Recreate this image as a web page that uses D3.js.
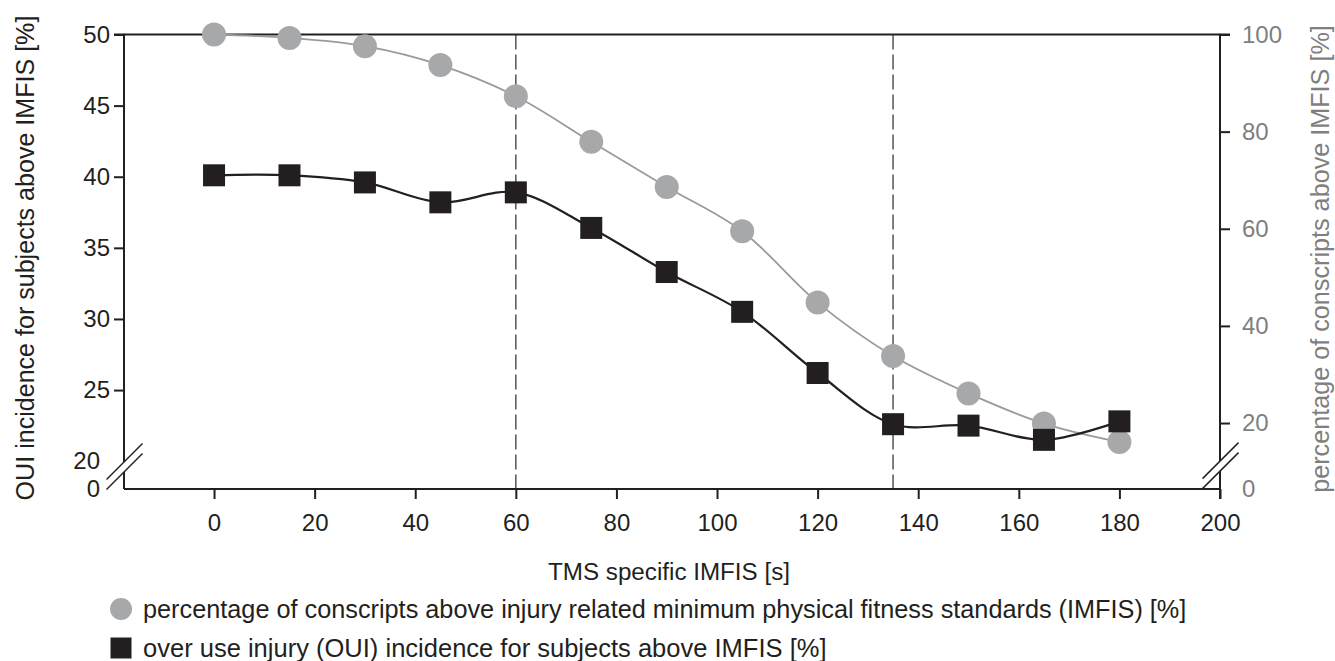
<!DOCTYPE html>
<html>
<head>
<meta charset="utf-8">
<script src="https://cdn.jsdelivr.net/npm/d3@7"></script>
<style>
  body { margin: 0; background: white; }
  svg { display: block; font-family: "Liberation Sans", Arial, sans-serif; }
</style>
</head>
<body>
<div id="chart"></div>
<script>
// x values (TMS specific IMFIS, s)
const imfisSec = [0, 15, 30, 45, 60, 75, 90, 105, 120, 135, 150, 165, 180]
// percentage of conscripts above IMFIS (right axis)
const pctAbove = [100, 99.3, 97.6, 93.7, 87.3, 77.9, 68.6, 59.5, 44.8, 33.8, 26.1, 19.9, 16.1]
// OUI incidence for subjects above IMFIS (left axis)
const ouiIncidence = [40.1, 40.1, 39.6, 38.2, 38.9, 36.4, 33.3, 30.5, 26.2, 22.6, 22.5, 21.5, 22.8]

const xTicks = d3.range(0, 201, 20)
const leftTicks = [0, 20, 25, 30, 35, 40, 45, 50]
const rightTicks = [0, 20, 40, 60, 80, 100]
const markerLines = [60, 135]

const legendItems = [
    { label: 'percentage of conscripts above injury related minimum physical fitness standards (IMFIS) [%]', shape: 'circle', len: 1044 },
    { label: 'over use injury (OUI) incidence for subjects above IMFIS [%]', shape: 'square', len: 684 }
]

const W = 1335, H = 661
const pLeft = 124, pRight = 1220, pTop = 34.5, pBottom = 489

const grayFill = '#a7a8aa'
const darkFill = '#231f20'
const grayText = '#7f7f7f'
const fontFam = '"Liberation Sans", Arial, sans-serif'

let svg = d3.select('#chart').append('svg')
    .attr('width', W).attr('height', H)

let x = d3.scaleLinear().domain([-17.9, 200]).range([pLeft, pRight])
// broken axes: compressed segment near zero
let yL = d3.scaleLinear().domain([0, 19, 50]).range([pBottom, 475.4, pTop])
let yR = d3.scaleLinear().domain([0, 10, 100]).range([pBottom, 471.6, pTop])

// scale a text's font so it spans a given length
function fitText(sel, len) {
    sel.each(function () {
        let fs = parseFloat(d3.select(this).attr('font-size'))
        let w = this.getComputedTextLength()
        if (w > 0) d3.select(this).attr('font-size', fs * len / w)
    })
}

// dashed reference lines
svg.selectAll('line.ref')
    .data(markerLines)
    .enter()
    .append('line')
    .attr('class', 'ref')
    .attr('x1', d => x(d)).attr('x2', d => x(d))
    .attr('y1', pTop).attr('y2', pBottom)
    .attr('stroke', '#555')
    .attr('stroke-width', 1.5)
    .attr('stroke-dasharray', '15,5')

// frame: top line
svg.append('line')
    .attr('x1', pLeft).attr('x2', pRight)
    .attr('y1', pTop).attr('y2', pTop)
    .attr('stroke', '#231f20').attr('stroke-width', 2)

// axes
let xAxis = d3.axisBottom(x).tickValues(xTicks).tickSize(10).tickPadding(15)
let gx = svg.append('g').attr('transform', 'translate(0,' + pBottom + ')').call(xAxis)

let lAxis = d3.axisLeft(yL).tickValues(leftTicks).tickSize(10).tickPadding(4)
let gl = svg.append('g').attr('transform', 'translate(' + pLeft + ',0)').call(lAxis)

let rAxis = d3.axisRight(yR).tickValues(rightTicks).tickSize(10).tickPadding(12)
let gr = svg.append('g').attr('transform', 'translate(' + pRight + ',0)').call(rAxis)

for (let g of [gx, gl, gr]) {
    g.attr('font-size', null).attr('font-family', null)
    g.select('.domain').attr('stroke', '#231f20').attr('stroke-width', 2)
    g.selectAll('.tick line').attr('stroke', '#231f20').attr('stroke-width', 2)
    g.selectAll('.tick text').attr('font-size', 24).attr('font-family', fontFam)
        .attr('fill', '#231f20')
}
// labels at the break: no tick, pushed left
gl.selectAll('.tick').filter(d => d <= 20).select('line').remove()
gl.selectAll('.tick').filter(d => d <= 20).select('text').attr('x', -24)
gr.selectAll('.tick').filter(d => d === 0).select('line').remove()
gr.selectAll('.tick text').attr('fill', grayText)
// domain paths: plain lines instead of outer ticks
gx.select('.domain').attr('d', 'M' + pLeft + ',0H' + pRight)
gl.select('.domain').attr('d', 'M-10,' + pTop + 'H0V' + pBottom)
gr.select('.domain').attr('d', 'M10,' + pTop + 'H0V' + (pBottom + 10))

// axis break marks
function breakMark(cx, cy) {
    let g = svg.append('g').attr('transform', 'translate(' + cx + ',' + cy + ')')
    g.append('polygon')
        .attr('points', '-18,13 18,-23 18,-13 -18,23')
        .attr('fill', 'white')
    g.append('line').attr('x1', -18).attr('y1', 13).attr('x2', 18).attr('y2', -23)
        .attr('stroke', '#231f20').attr('stroke-width', 1.5)
    g.append('line').attr('x1', -18).attr('y1', 23).attr('x2', 18).attr('y2', -13)
        .attr('stroke', '#231f20').attr('stroke-width', 1.5)
}
breakMark(pLeft + 0.5, 466.5)
breakMark(pRight + 0.5, 465.6)

// lines
let grayLine = d3.line()
    .x((d, i) => x(imfisSec[i]))
    .y(d => yR(d))
    .curve(d3.curveCatmullRom.alpha(0.5))

let darkLine = d3.line()
    .x((d, i) => x(imfisSec[i]))
    .y(d => yL(d))
    .curve(d3.curveCatmullRom.alpha(0.5))

svg.append('path').datum(pctAbove)
    .attr('d', grayLine)
    .attr('fill', 'none').attr('stroke', '#9a9a9c').attr('stroke-width', 1.8)

svg.append('path').datum(ouiIncidence)
    .attr('d', darkLine)
    .attr('fill', 'none').attr('stroke', darkFill).attr('stroke-width', 2.2)

// markers
svg.selectAll('circle.pct')
    .data(pctAbove)
    .enter()
    .append('circle')
    .attr('class', 'pct')
    .attr('cx', (d, i) => x(imfisSec[i]))
    .attr('cy', d => yR(d))
    .attr('r', 12)
    .attr('fill', grayFill)

svg.selectAll('rect.oui')
    .data(ouiIncidence)
    .enter()
    .append('rect')
    .attr('class', 'oui')
    .attr('x', (d, i) => x(imfisSec[i]) - 11)
    .attr('y', d => yL(d) - 11)
    .attr('width', 22).attr('height', 22)
    .attr('fill', darkFill)

// axis titles
svg.append('text')
    .attr('transform', 'translate(34,258) rotate(-90)')
    .attr('text-anchor', 'middle')
    .attr('font-size', 22)
    .attr('fill', '#231f20')
    .text('OUI incidence for subjects above IMFIS [%]')
    .call(fitText, 485)

svg.append('text')
    .attr('transform', 'translate(1329,259) rotate(-90)')
    .attr('text-anchor', 'middle')
    .attr('font-size', 22)
    .attr('fill', grayText)
    .text('percentage of conscripts above IMFIS [%]')
    .call(fitText, 468)

svg.append('text')
    .attr('x', 669)
    .attr('y', 580)
    .attr('text-anchor', 'middle')
    .attr('font-size', 22)
    .attr('fill', '#231f20')
    .text('TMS specific IMFIS [s]')
    .call(fitText, 242)

// legend
let lg = svg.selectAll('g.legend')
    .data(legendItems)
    .enter()
    .append('g')
    .attr('class', 'legend')
    .attr('transform', (d, i) => 'translate(121,' + (609 + i * 39) + ')')

lg.each(function (d) {
    let g = d3.select(this)
    if (d.shape === 'circle') {
        g.append('circle').attr('r', 11).attr('fill', grayFill)
    } else {
        g.append('rect').attr('x', -10.5).attr('y', -10.5).attr('width', 21).attr('height', 21).attr('fill', darkFill)
    }
})

lg.append('text')
    .attr('x', 22)
    .attr('y', 9)
    .attr('font-size', 22)
    .attr('fill', '#231f20')
    .text(d => d.label)
    .each(function (d) { fitText(d3.select(this), d.len) })
</script>
</body>
</html>
